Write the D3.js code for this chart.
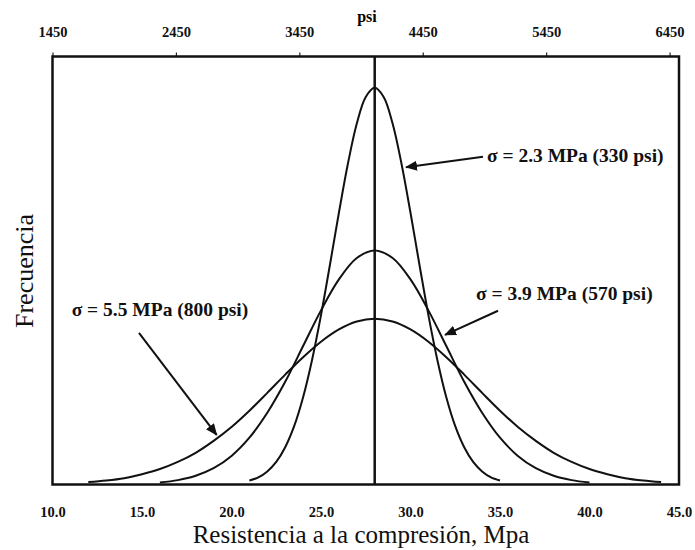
<!DOCTYPE html>
<html><head><meta charset="utf-8">
<script src="https://cdn.jsdelivr.net/npm/d3@7"></script>
<style>body{margin:0;background:#fff}svg{display:block}</style>
</head><body>
<script>
// ---- data ----
const mpaTicks = [10, 15, 20, 25, 30, 35, 40, 45];
const psiTicks = [1450, 2450, 3450, 4450, 5450, 6450];
const meanMpa = 28;

const s23X = [21,21.5,22,22.5,23,23.5,24,24.5,25,25.5,26,26.5,27,27.5,28,28.5,29,29.5,30,30.5,31,31.5,32,32.5,33,33.5,34,34.5,35];
const s23Y = [0.010,0.018,0.033,0.057,0.094,0.147,0.220,0.314,0.427,0.554,0.685,0.808,0.910,0.977,1.000,0.977,0.910,0.808,0.685,0.554,0.427,0.314,0.220,0.147,0.094,0.057,0.033,0.018,0.010];

const s39X = [16,17,18,19,20,21,22,23,24,25,26,27,28,29,30,31,32,33,34,35,36,37,38,39,40];
const s39Y = [0.005,0.011,0.022,0.041,0.072,0.118,0.181,0.259,0.349,0.439,0.517,0.571,0.590,0.571,0.517,0.439,0.349,0.259,0.181,0.118,0.072,0.041,0.022,0.011,0.005];

const s55X = [12,13,14,15,16,17,18,19,20,21,22,23,24,25,26,27,28,29,30,31,32,33,34,35,36,37,38,39,40,41,42,43,44];
const s55Y = [0.006,0.010,0.016,0.026,0.039,0.057,0.080,0.110,0.145,0.186,0.231,0.277,0.321,0.360,0.391,0.411,0.418,0.411,0.391,0.360,0.321,0.277,0.231,0.186,0.145,0.110,0.080,0.057,0.039,0.026,0.016,0.010,0.006];

const labels = ["σ = 2.3 MPa (330 psi)", "σ = 3.9 MPa (570 psi)", "σ = 5.5 MPa (800 psi)"];
const labelX = [34.27, 33.66, 11.07];
const labelY = [0.814, 0.465, 0.4255];
const arrowFromX = [34.05, 34.89, 14.83];
const arrowFromY = [0.826, 0.438, 0.382];
const arrowToX = [29.75, 31.93, 19.17];
const arrowToY = [0.800, 0.377, 0.125];

// ---- layout ----
const W = 695, H = 550;
const L = 52.5, R = 679, T = 56.5, B = 484.5;
const svg = d3.select("body").append("svg").attr("width", W).attr("height", H);

const x = d3.scaleLinear().domain([10, 45]).range([L, R]);
const xPsi = d3.scaleLinear().domain([1450, 1450 + 35 * 145.038]).range([L, R]);
const y = d3.scaleLinear().domain([0, 1.079]).range([B, T]);

const serif = "'Liberation Serif','Times New Roman',serif";

// bottom axis labels (no tick marks)
const bottomAxis = d3.axisBottom(x).tickValues(mpaTicks).tickSize(0).tickPadding(0).tickFormat(d3.format(".1f"));
const gb = svg.append("g").attr("transform", `translate(0,${B})`).call(bottomAxis);
gb.select(".domain").remove();
gb.selectAll("text").attr("dy", null).attr("y", 32)
  .style("font-family", serif).style("font-size", "14.5px").style("font-weight", "bold").attr("fill", "#111");

// top axis (psi)
const topAxis = d3.axisTop(xPsi).tickValues(psiTicks).tickSize(4).tickPadding(0).tickFormat(d3.format("d"));
const gt = svg.append("g").attr("transform", `translate(0,${T})`).call(topAxis);
gt.select(".domain").remove();
gt.selectAll("line").attr("stroke", "#222").attr("stroke-width", 1.2);
gt.selectAll("text").attr("dy", null).attr("y", -20)
  .style("font-family", serif).style("font-size", "14.5px").style("font-weight", "bold").attr("fill", "#111");

svg.append("text").attr("x", 367).attr("y", 22).attr("text-anchor", "middle")
  .style("font-family", serif).style("font-size", "16px").style("font-weight", "bold").text("psi");

// curves
const line = d3.line().x(d => x(d[0])).y(d => y(d[1])).curve(d3.curveCatmullRom);
[[s23X, s23Y], [s39X, s39Y], [s55X, s55Y]].forEach(([xs, ys]) => {
  svg.append("path").datum(xs.map((v, i) => [v, ys[i]])).attr("d", line)
    .attr("fill", "none").attr("stroke", "#111").attr("stroke-width", 2);
});

// mean line
svg.append("line").attr("x1", x(meanMpa)).attr("x2", x(meanMpa)).attr("y1", T).attr("y2", B)
  .attr("stroke", "#111").attr("stroke-width", 2.5);

// frame
svg.append("rect").attr("x", L).attr("y", T).attr("width", R - L).attr("height", B - T)
  .attr("fill", "none").attr("stroke", "#111").attr("stroke-width", 2.5);

// arrows
svg.append("defs").append("marker").attr("id", "ah").attr("viewBox", "0 0 12 10")
  .attr("refX", 11).attr("refY", 5).attr("markerWidth", 12).attr("markerHeight", 10)
  .attr("markerUnits", "userSpaceOnUse").attr("orient", "auto")
  .append("path").attr("d", "M0,0 L12,5 L0,10 Z").attr("fill", "#111");

labels.forEach((t, i) => {
  svg.append("line").attr("x1", x(arrowFromX[i])).attr("y1", y(arrowFromY[i]))
    .attr("x2", x(arrowToX[i])).attr("y2", y(arrowToY[i]))
    .attr("stroke", "#111").attr("stroke-width", 2).attr("marker-end", "url(#ah)");
  svg.append("text").attr("x", x(labelX[i])).attr("y", y(labelY[i]))
    .style("font-family", serif).style("font-size", "19.5px").style("font-weight", "bold")
    .attr("fill", "#111").text(t);
});

// axis titles
svg.append("text").attr("x", 361).attr("y", 543).attr("text-anchor", "middle")
  .style("font-family", serif).style("font-size", "25px").attr("fill", "#111")
  .text("Resistencia a la compresión, Mpa");
svg.append("text").attr("transform", "translate(33,271) rotate(-90)").attr("text-anchor", "middle")
  .style("font-family", serif).style("font-size", "26px").attr("fill", "#111")
  .text("Frecuencia");
</script>
</body></html>
